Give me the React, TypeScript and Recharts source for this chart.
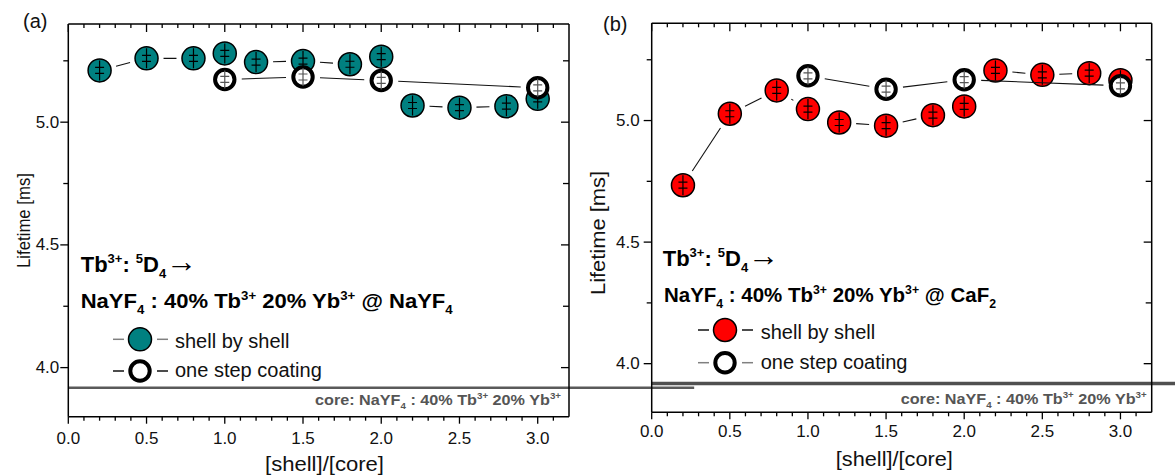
import React from 'react';
import { ScatterChart, Scatter, XAxis, YAxis, ReferenceLine } from 'recharts';

// ---------- data ----------
const X_TICKS = [0, 0.1, 0.2, 0.3, 0.4, 0.5, 0.6, 0.7, 0.8, 0.9, 1.0, 1.1, 1.2, 1.3, 1.4, 1.5, 1.6, 1.7, 1.8, 1.9, 2.0, 2.1, 2.2, 2.3, 2.4, 2.5, 2.6, 2.7, 2.8, 2.9, 3.0, 3.1];
const Y_TICKS = [4.0, 4.25, 4.5, 4.75, 5.0, 5.25];
const X_DOMAIN: [number, number] = [0, 3.2];
const Y_DOMAIN: [number, number] = [3.8, 5.4];

// shell-by-shell samples come in two connected runs
const shellX1 = [0.2, 0.5, 0.8, 1.0, 1.2, 1.5, 1.8, 2.0];
const shellX2 = [2.2, 2.5, 2.8, 3.0];
const oneStepX = [1.0, 1.5, 2.0, 3.0];

// (a) NaYF4 shell
const shellA1 = [5.211, 5.26, 5.26, 5.28, 5.245, 5.249, 5.236, 5.267];
const shellA2 = [5.068, 5.059, 5.065, 5.095];
const oneStepA = [5.174, 5.184, 5.170, 5.140];
// (b) CaF2 shell
const shellB1 = [4.734, 5.028, 5.124, 5.047, 4.992, 4.979, 5.022, 5.058];
const shellB2 = [5.206, 5.188, 5.195, 5.166];
const oneStepB = [5.184, 5.129, 5.168, 5.143];

const CORE_LEVEL = 3.918;

const toPts = (xs: number[], ys: number[]) => xs.map((x, i) => ({ x, y: ys[i] }));

const TEAL = '#008080';
const RED = '#ff0000';
const FONT = '"Liberation Sans", Arial, Helvetica, sans-serif';

// ---------- helpers ----------
const isMajorX = (v: number) => Math.abs(v * 2 - Math.round(v * 2)) < 1e-6;
const isMajorY = (v: number) => Math.abs(v * 2 - Math.round(v * 2)) < 1e-6;

function Marker({ cx, cy, kind, glyph }: { cx: number; cy: number; kind: string; glyph?: boolean }) {
  const open = kind === 'open';
  const r = open ? 9.7 : 11.5;
  const fill = kind === 'teal' ? TEAL : kind === 'red' ? RED : '#fff';
  const sw = open ? 4 : 1.5;
  const gc = open ? '#555' : '#000';
  return (
    <g>
      <circle cx={cx} cy={cy} r={r} fill={fill} stroke="#000" strokeWidth={sw} />
      {glyph && (
        <g stroke={gc} strokeWidth={1.2}>
          <line x1={cx} x2={cx} y1={cy - (open ? 9 : 10)} y2={cy + (open ? 9 : 10)} />
          <line x1={cx - 4.5} x2={cx + 4.5} y1={cy - 3} y2={cy - 3} />
          <line x1={cx - 4.5} x2={cx + 4.5} y1={cy + 3} y2={cy + 3} />
        </g>
      )}
    </g>
  );
}

function GapLine(props: any) {
  const pts = props.points || [];
  const g = 17;
  const segs: any[] = [];
  for (let i = 0; i < pts.length - 1; i++) {
    const a = pts[i];
    const b = pts[i + 1];
    const dx = b.x - a.x;
    const dy = b.y - a.y;
    const d = Math.hypot(dx, dy);
    if (d > 2 * g + 1) {
      const ux = dx / d;
      const uy = dy / d;
      segs.push(
        <line key={i} x1={a.x + ux * g} y1={a.y + uy * g} x2={b.x - ux * g} y2={b.y - uy * g} />
      );
    }
  }
  return <g stroke="#111" strokeWidth={1.1}>{segs}</g>;
}

const BottomTick = (p: any) => {
  const v = p.payload.value;
  const maj = isMajorX(v);
  return (
    <g>
      <line x1={p.x} x2={p.x} y1={p.y} y2={p.y + (maj ? 7 : 4)} stroke="#000" strokeWidth={1.3} />
      {maj && (
        <text x={p.x} y={p.y + p.off} textAnchor="middle" fontSize={17} fontFamily={FONT} fill="#111">
          {v.toFixed(1)}
        </text>
      )}
    </g>
  );
};
const TopTick = (p: any) => {
  const maj = isMajorX(p.payload.value);
  return <line x1={p.x} x2={p.x} y1={p.y} y2={p.y + (maj ? 8 : 4)} stroke="#000" strokeWidth={1.3} />;
};
const LeftTick = (p: any) => {
  const v = p.payload.value;
  const maj = isMajorY(v);
  return (
    <g>
      <line x1={p.x - (maj ? 8 : 5)} x2={p.x} y1={p.y} y2={p.y} stroke="#000" strokeWidth={1.3} />
      {maj && (
        <text x={p.x - p.off} y={p.y} textAnchor="end" dominantBaseline="central" fontSize={17} fontFamily={FONT} fill="#111">
          {v.toFixed(1)}
        </text>
      )}
    </g>
  );
};
const RightTick = (p: any) => {
  const maj = isMajorY(p.payload.value);
  return <line x1={p.x - (maj ? 8 : 6)} x2={p.x} y1={p.y} y2={p.y} stroke="#000" strokeWidth={1.3} />;
};

const axisLine = { stroke: '#000', strokeWidth: 1.5 };

function Panel({
  width, margin, shell1, shell2, oneStep, shellKind, lineEnd, lineColor, lineWidth, xOff, yOff,
}: any) {
  return (
    <ScatterChart width={width} height={475} margin={margin}>
      <XAxis xAxisId="b" type="number" dataKey="x" domain={X_DOMAIN} allowDataOverflow ticks={X_TICKS} interval={0}
        height={1} tickSize={0} tickMargin={0} tickLine={false} axisLine={axisLine}
        tick={(p: any) => <BottomTick {...p} off={xOff} />} />
      <XAxis xAxisId="t" orientation="top" type="number" dataKey="x" domain={X_DOMAIN} allowDataOverflow ticks={X_TICKS} interval={0}
        height={1} tickSize={0} tickMargin={0} tickLine={false} axisLine={axisLine}
        tick={(p: any) => <TopTick {...p} />} />
      <YAxis yAxisId="l" type="number" dataKey="y" domain={Y_DOMAIN} allowDataOverflow ticks={Y_TICKS} interval={0}
        width={1} tickSize={0} tickMargin={0} tickLine={false} axisLine={axisLine}
        tick={(p: any) => <LeftTick {...p} off={yOff} />} />
      <YAxis yAxisId="r" orientation="right" type="number" dataKey="y" domain={Y_DOMAIN} allowDataOverflow ticks={Y_TICKS} interval={0}
        width={1} tickSize={0} tickMargin={0} tickLine={false} axisLine={axisLine}
        tick={(p: any) => <RightTick {...p} />} />
      <ReferenceLine xAxisId="b" yAxisId="l" ifOverflow="visible"
        segment={[{ x: 0, y: CORE_LEVEL }, { x: lineEnd, y: CORE_LEVEL }]}
        stroke={lineColor} strokeWidth={lineWidth} />
      <Scatter xAxisId="b" yAxisId="l" data={toPts(shellX1, shell1)} isAnimationActive={false}
        line={(lp: any) => <GapLine {...lp} />}
        shape={(sp: any) => <Marker cx={sp.cx} cy={sp.cy} kind={shellKind} glyph />} />
      <Scatter xAxisId="b" yAxisId="l" data={toPts(shellX2, shell2)} isAnimationActive={false}
        line={(lp: any) => <GapLine {...lp} />}
        shape={(sp: any) => <Marker cx={sp.cx} cy={sp.cy} kind={shellKind} glyph />} />
      <Scatter xAxisId="b" yAxisId="l" data={toPts(oneStepX, oneStep)} isAnimationActive={false}
        line={(lp: any) => <GapLine {...lp} />}
        shape={(sp: any) => <Marker cx={sp.cx} cy={sp.cy} kind="open" glyph />} />
    </ScatterChart>
  );
}

function Title1({ x, y }: any) {
  return (
    <text x={x} y={y} fontFamily={FONT} fontWeight="bold" fontSize={22} fill="#000">
      Tb<tspan fontSize={13} dy={-9}>3+</tspan>
      <tspan dy={9}>: </tspan>
      <tspan fontSize={13} dy={-9}>5</tspan>
      <tspan dy={9}>D</tspan>
      <tspan fontSize={13} dy={6}>4</tspan>
      <tspan dy={-6} fontWeight="normal" fontSize={31}>{'\u2192'}</tspan>
    </text>
  );
}

function Title2({ x, y, shellName, len }: any) {
  return (
    <text x={x} y={y} fontFamily={FONT} fontWeight="bold" fontSize={20} fill="#000" textLength={len} lengthAdjust="spacingAndGlyphs">
      NaYF<tspan fontSize={12} dy={6}>4</tspan>
      <tspan dy={-6}> : 40% Tb</tspan>
      <tspan fontSize={12} dy={-8}>3+</tspan>
      <tspan dy={8}> 20% Yb</tspan>
      <tspan fontSize={12} dy={-8}>3+</tspan>
      <tspan dy={8}> @ {shellName}</tspan>
      <tspan fontSize={12} dy={6}>{shellName === 'NaYF' ? '4' : '2'}</tspan>
    </text>
  );
}

function CoreText({ x, y }: any) {
  return (
    <text x={x} y={y} fontFamily={FONT} fontWeight="bold" fontSize={15} fill="#555" textLength={246} lengthAdjust="spacingAndGlyphs">
      core: NaYF<tspan fontSize={9} dy={4}>4</tspan>
      <tspan dy={-4}> : 40% Tb</tspan>
      <tspan fontSize={9} dy={-6}>3+</tspan>
      <tspan dy={6}> 20% Yb</tspan>
      <tspan fontSize={9} dy={-6}>3+</tspan>
    </text>
  );
}

function LegendItem({ cx, cy, kind, label, dash, tx, ty }: any) {
  return (
    <g>
      <line x1={cx - 27} x2={cx - 16} y1={cy} y2={cy} stroke={dash} strokeWidth={1.5} />
      <line x1={cx + 17} x2={cx + 28} y1={cy} y2={cy} stroke={dash} strokeWidth={1.5} />
      <Marker cx={cx} cy={cy} kind={kind} />
      <text x={tx} y={ty} fontFamily={FONT} fontSize={20} fill="#111">{label}</text>
    </g>
  );
}

export default function App() {
  return (
    <div style={{ position: 'absolute', left: 0, top: 0, width: 1175, height: 475, background: '#fff', overflow: 'hidden' }}>
      <div style={{ position: 'absolute', left: 0, top: 0 }}>
        <Panel width={700} margin={{ top: 23, right: 130, bottom: 57.3, left: 67.3 }}
          shell1={shellA1} shell2={shellA2} oneStep={oneStepA} shellKind="teal"
          lineEnd={4.0} lineColor="#5a5a5a" lineWidth={2.5} xOff={27} yOff={9} />
      </div>
      <div style={{ position: 'absolute', left: 580, top: 0 }}>
        <Panel width={595} margin={{ top: 22.3, right: 22.3, bottom: 61.7, left: 70.7 }}
          shell1={shellB1} shell2={shellB2} oneStep={oneStepB} shellKind="red"
          lineEnd={3.36} lineColor="#505050" lineWidth={3.5} xOff={25} yOff={12} />
      </div>
      <svg width={1175} height={475} style={{ position: 'absolute', left: 0, top: 0, pointerEvents: 'none' }}>
        {/* panel letters */}
        <text x={23} y={28} fontFamily={FONT} fontSize={20} fill="#111">(a)</text>
        <text x={603} y={31} fontFamily={FONT} fontSize={20} fill="#111">(b)</text>

        {/* axis titles */}
        <text transform="translate(24,220.5) rotate(-90)" textAnchor="middle" dominantBaseline="central"
          fontFamily={FONT} fontSize={17.5} fill="#111" textLength={95} lengthAdjust="spacingAndGlyphs">Lifetime [ms]</text>
        <text transform="translate(597.5,233) rotate(-90)" textAnchor="middle" dominantBaseline="central"
          fontFamily={FONT} fontSize={20} fill="#111" textLength={124} lengthAdjust="spacingAndGlyphs">Lifetime [ms]</text>
        <text x={324.5} y={471} textAnchor="middle" fontFamily={FONT} fontSize={20} fill="#111"
          textLength={119} lengthAdjust="spacingAndGlyphs">[shell]/[core]</text>
        <text x={894.3} y={466} textAnchor="middle" fontFamily={FONT} fontSize={20} fill="#111"
          textLength={117} lengthAdjust="spacingAndGlyphs">[shell]/[core]</text>

        {/* panel (a) annotations */}
        <Title1 x={80.7} y={271.7} />
        <Title2 x={80.7} y={308.3} shellName="NaYF" len={372} />
        <LegendItem cx={140} cy={339.3} kind="teal" label="shell by shell" dash="#808080" tx={175} ty={348.3} />
        <LegendItem cx={140} cy={371} kind="open" label="one step coating" dash="#111" tx={175} ty={377.3} />
        <CoreText x={315} y={405} />

        {/* panel (b) annotations */}
        <Title1 x={662.7} y={265.7} />
        <Title2 x={664} y={301.7} shellName="CaF" len={332} />
        <LegendItem cx={725} cy={330} kind="red" label="shell by shell" dash="#111" tx={760.7} ty={339} />
        <LegendItem cx={725} cy={362.7} kind="open" label="one step coating" dash="#808080" tx={760.7} ty={369.3} />
        <CoreText x={900.7} y={404.3} />
      </svg>
    </div>
  );
}
